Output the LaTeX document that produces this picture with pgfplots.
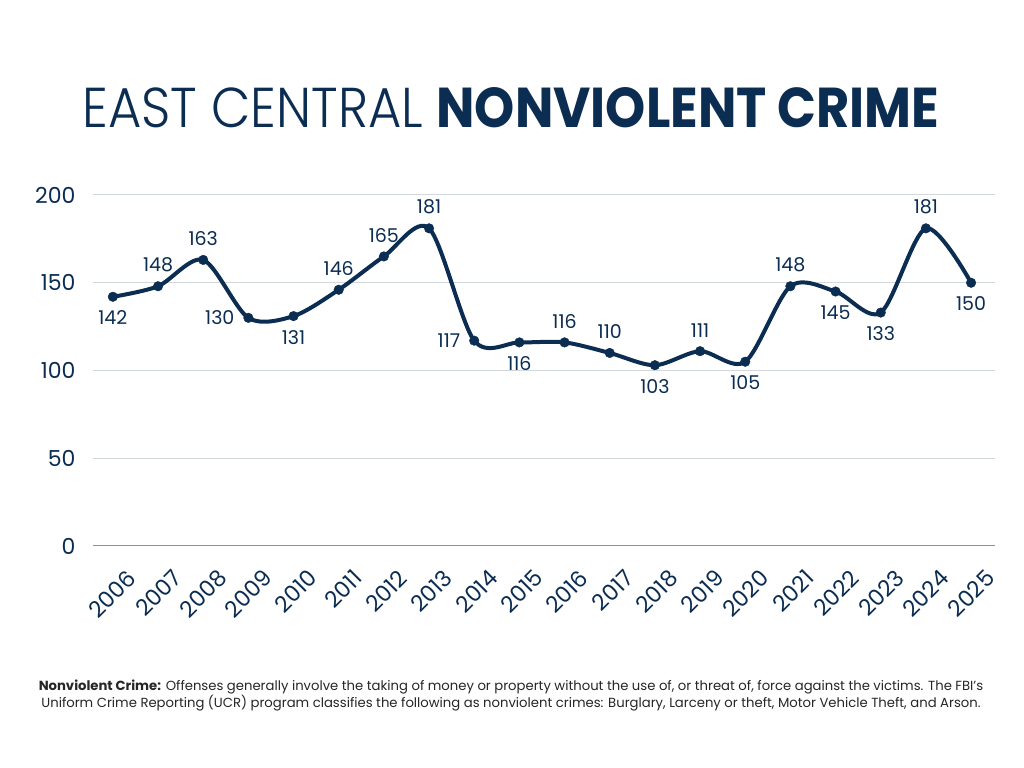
\documentclass[border=0pt]{standalone}
\usepackage{pgfplots}
\usepackage{pgfplotstable}
\usepackage{fontspec}
\pgfplotsset{compat=1.18}
\setmainfont{Poppins}
\newfontfamily\poplight{Poppins Light}
\definecolor{navy}{HTML}{0B2D52}
\definecolor{gridgray}{HTML}{D3D8DF}
\definecolor{zeroline}{HTML}{7D93AB}

\pgfplotstableread{
year val anch
2006 142 north
2007 148 south
2008 163 south
2009 130 east
2010 131 north
2011 146 south
2012 165 south
2013 181 south
2014 117 east
2015 116 north
2016 116 south
2017 110 south
2018 103 north
2019 111 south
2020 105 north
2021 148 south
2022 145 north
2023 133 north
2024 181 south
2025 150 north
}\crimedata

\begin{document}
\begin{tikzpicture}[x=1bp,y=1bp]
\fill[white] (0,0) rectangle (1024,768);
% title
\node[anchor=base, inner sep=0pt, text=navy] at (511,640)
  {\resizebox{857bp}{40bp}{\fontsize{60bp}{66bp}\selectfont {\poplight EAST CENTRAL} \textbf{NONVIOLENT CRIME}}};
\begin{axis}[
  at={(93bp,222bp)}, anchor=south west,
  scale only axis,
  width=902bp, height=351bp,
  xmin=2005.56, xmax=2025.53,
  ymin=0, ymax=200,
  ytick={0,50,100,150,200},
  xtick={2006,...,2025},
  axis x line*=bottom,
  axis y line*=left,
  y axis line style={draw=none},
  x axis line style={draw=zeroline, line width=1pt},
  major tick length=0pt,
  ymajorgrids,
  grid style={draw=gridgray, line width=1pt},
  /pgf/number format/assume math mode=true,
  /pgf/number format/1000 sep={},
  ticklabel style={text=navy},
  yticklabel style={font=\fontsize{22bp}{26bp}\selectfont, anchor=east, xshift=-14bp},
  xticklabel style={font=\fontsize{22.5bp}{26bp}\selectfont, rotate=45, anchor=north east, inner sep=1bp, xshift=-5bp, yshift=-24bp},
  clip=false,
]
\addplot[draw=navy, line width=4bp, smooth, tension=0.5, no marks,
  point meta=explicit symbolic,
  nodes near coords={\pgfmathprintnumber[precision=0]{\pgfkeysvalueof{/data point/y}}},
  every node near coord/.append style={font=\fontsize{19bp}{22bp}\selectfont, text=navy, anchor=\pgfplotspointmeta, inner sep=12bp},
] table[x=year, y=val, meta=anch] {\crimedata};
\addplot[only marks, mark=*, mark size=4.8bp, mark options={fill=navy, draw=navy, line width=0.4bp, solid}]
  table[x=year, y=val] {\crimedata};
\end{axis}
% footnote
\node[align=center, text=black!85, font=\fontsize{13.2bp}{17bp}\selectfont, inner sep=0pt] at (511,73)
  {\textbf{Nonviolent Crime:} Offenses generally involve the taking of money or property without the use of, or threat of, force against the victims. The FBI’s\\
   Uniform Crime Reporting (UCR) program classifies the following as nonviolent crimes: Burglary, Larceny or theft, Motor Vehicle Theft, and Arson.};
\useasboundingbox (0,0) rectangle (1024,768);
\end{tikzpicture}
\end{document}
